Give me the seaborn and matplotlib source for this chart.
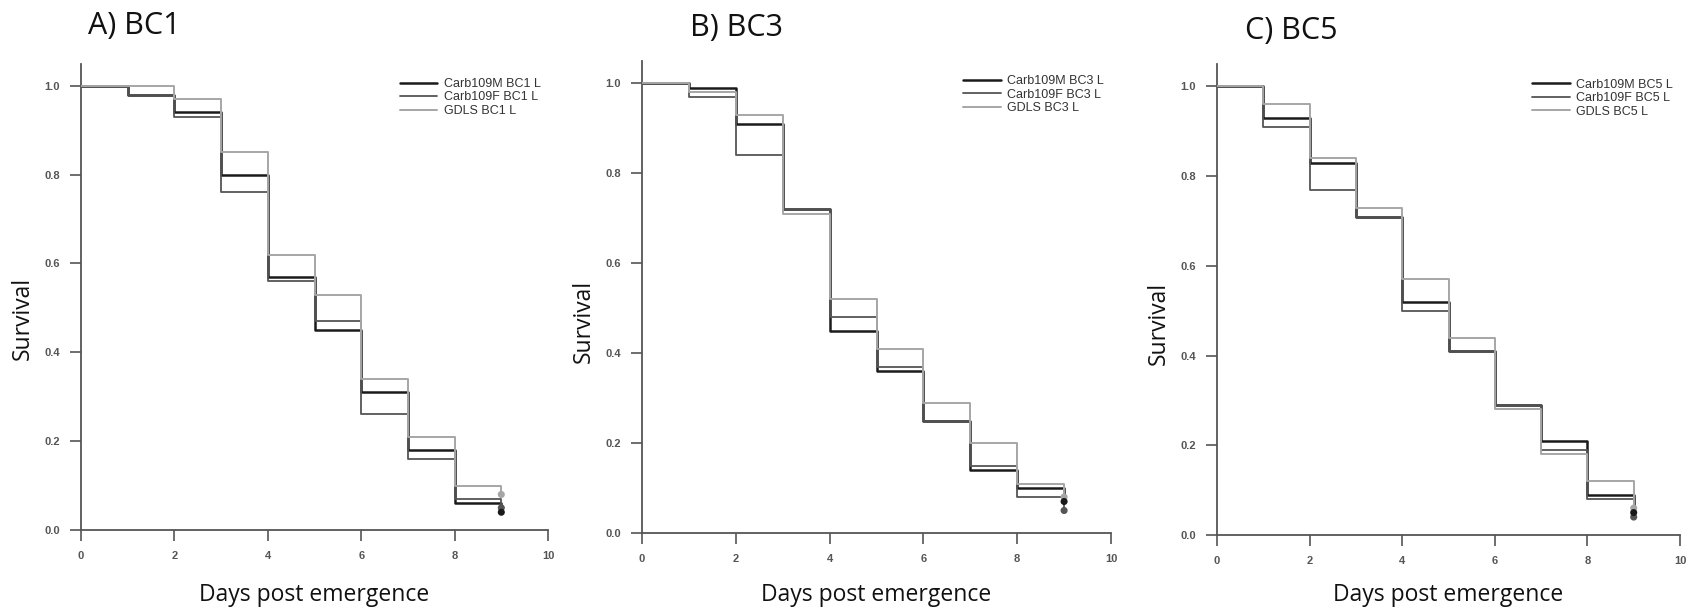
import numpy as np
import pandas as pd
import matplotlib
matplotlib.use("Agg")
import matplotlib.pyplot as plt
import seaborn as sns

sns.set_style("white")
plt.rcParams['font.family'] = ['Liberation Sans', 'DejaVu Sans']

# ---- data ----
days = [0, 1, 2, 3, 4, 5, 6, 7, 8, 9]
panel_titles = ["A) BC1", "B) BC3", "C) BC5"]
panel_codes = ["BC1", "BC3", "BC5"]

carb109m_bc1 = [1.0, 0.98, 0.94, 0.80, 0.57, 0.45, 0.31, 0.18, 0.06, 0.04]
carb109f_bc1 = [1.0, 0.98, 0.93, 0.76, 0.56, 0.47, 0.26, 0.16, 0.07, 0.05]
gdls_bc1     = [1.0, 1.00, 0.97, 0.85, 0.62, 0.53, 0.34, 0.21, 0.10, 0.08]

carb109m_bc3 = [1.0, 0.99, 0.91, 0.72, 0.45, 0.36, 0.25, 0.14, 0.10, 0.07]
carb109f_bc3 = [1.0, 0.97, 0.84, 0.72, 0.48, 0.37, 0.25, 0.15, 0.08, 0.05]
gdls_bc3     = [1.0, 0.98, 0.93, 0.71, 0.52, 0.41, 0.29, 0.20, 0.11, 0.08]

carb109m_bc5 = [1.0, 0.93, 0.83, 0.71, 0.52, 0.41, 0.29, 0.21, 0.09, 0.05]
carb109f_bc5 = [1.0, 0.91, 0.77, 0.71, 0.50, 0.41, 0.29, 0.19, 0.08, 0.04]
gdls_bc5     = [1.0, 0.96, 0.84, 0.73, 0.57, 0.44, 0.28, 0.18, 0.12, 0.06]

series = {
    "BC1": [carb109m_bc1, carb109f_bc1, gdls_bc1],
    "BC3": [carb109m_bc3, carb109f_bc3, gdls_bc3],
    "BC5": [carb109m_bc5, carb109f_bc5, gdls_bc5],
}
group_prefixes = ["Carb109M", "Carb109F", "GDLS"]
x_ticks = [0, 2, 4, 6, 8, 10]
y_ticks = [0.0, 0.2, 0.4, 0.6, 0.8, 1.0]

# ---- styling ----
colors = ["#1a1a1a", "#555555", "#a6a6a6"]
widths = [1.8, 1.3, 1.4]
zorders = [1, 2, 3]

fig = plt.figure(figsize=(17.02, 6.08), dpi=100)
W, H = 1702, 608
axes_px = [  # left, right, bottom(y=0), top(y=1.05) in pixel coords
    (81, 548, 530, 63.5),
    (642, 1111, 533, 60.5),
    (1217, 1680, 535, 64),
]
title_px = [(88, 26), (690, 28), (1245, 31)]

for i, code in enumerate(panel_codes):
    l, r, b, t = axes_px[i]
    ax = fig.add_axes([l / W, 1 - b / H, (r - l) / W, (b - t) / H])
    rows = []
    for g, vals in zip(group_prefixes, series[code]):
        for d, v in zip(days, vals):
            rows.append({"day": d, "survival": v, "group": f"{g} {code} L"})
    df = pd.DataFrame(rows)
    labels = [f"{g} {code} L" for g in group_prefixes]
    for j, lab in enumerate(labels):
        sub = df[df["group"] == lab]
        sns.lineplot(data=sub, x="day", y="survival", ax=ax, color=colors[j],
                     linewidth=widths[j], drawstyle="steps-post", label=lab,
                     zorder=zorders[j], errorbar=None)
    for j, lab in enumerate(labels):
        sub = df[(df["group"] == lab) & (df["day"] == days[-1])]
        sns.scatterplot(data=sub, x="day", y="survival", ax=ax, color=colors[j],
                        s=26, edgecolor="none", zorder=4 + (2 - j), legend=False)
    ax.set_xlim(0, 10)
    ax.set_ylim(0, 1.05)
    ax.set_xticks(x_ticks)
    ax.set_yticks(y_ticks)
    ax.set_yticklabels([f"{v:.1f}" for v in y_ticks])
    ax.set_xlabel("")
    ax.set_ylabel("")
    for s in ["top", "right"]:
        ax.spines[s].set_visible(False)
    for s in ["left", "bottom"]:
        ax.spines[s].set_color("#555555")
        ax.spines[s].set_linewidth(1.3)
    ax.tick_params(axis="both", direction="out", length=8, width=1.2,
                   color="#555555", labelsize=8, labelcolor="#555555",
                   bottom=True, left=True, pad=7)
    for lbl in ax.get_xticklabels() + ax.get_yticklabels():
        lbl.set_fontweight("bold")
    leg = ax.legend(loc="upper right", bbox_to_anchor=(1.0, 0.985), frameon=False,
                    fontsize=9, handlelength=3.0, handletextpad=0.5,
                    labelspacing=0.12, borderaxespad=0.2)
    for txt in leg.get_texts():
        txt.set_color("#333333")
    # panel title & axis labels
    tx, ty = title_px[i]
    fig.text(tx / W, 1 - ty / H, panel_titles[i], fontsize=22, ha="left",
             va="center", family=["Open Sans", "DejaVu Sans"], color="#111111")
    fig.text(((l + r) / 2) / W, 1 - 595 / H, "Days post emergence", fontsize=16.5,
             ha="center", va="center", family=["Open Sans", "DejaVu Sans"],
             color="#111111")
    fig.text((l - 58) / W, 1 - (b - 212) / H, "Survival", fontsize=16.5,
             rotation=90, ha="center", va="center",
             family=["Open Sans", "DejaVu Sans"], color="#111111")

fig.savefig("out.png", dpi=100, facecolor="white")
